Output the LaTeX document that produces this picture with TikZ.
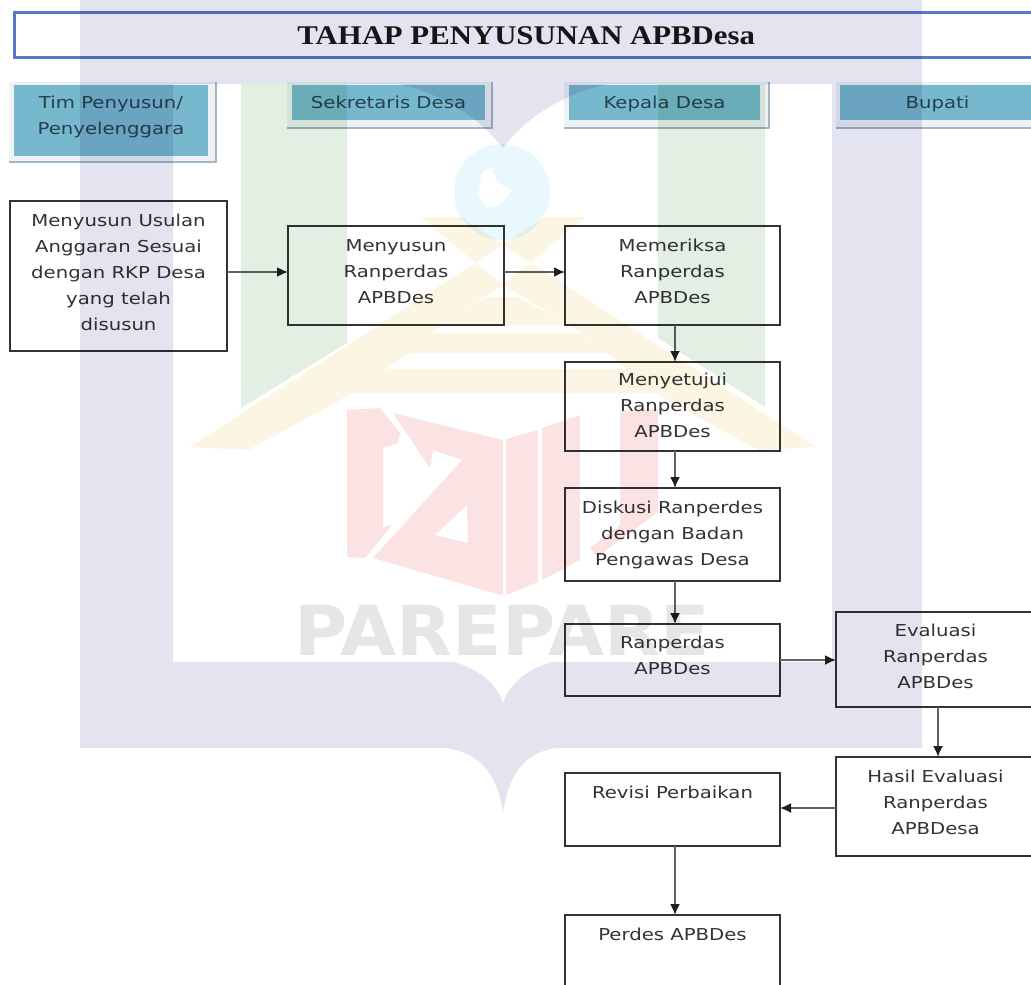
\documentclass[tikz,border=0pt]{standalone}
\usepackage{fontspec}
\setmainfont{DejaVu Sans}[FakeStretch=1.2]
\newfontfamily\titlefont{Liberation Serif}[FakeStretch=1.14]
\newfontfamily\markfont{DejaVu Sans}[FakeStretch=1.05]
\usetikzlibrary{arrows.meta,positioning}
\definecolor{lavmark}{HTML}{E3E4EF}
\definecolor{greenmark}{HTML}{E3EFE3}
\definecolor{yellowmark}{HTML}{FBF6E3}
\definecolor{redmark}{HTML}{FBE3E4}
\definecolor{bluemark}{HTML}{E9F8FD}
\definecolor{graymark}{HTML}{E6E6E6}
\definecolor{headteal}{HTML}{78B8CE}
\definecolor{bevelfill}{HTML}{EFF2F4}
\definecolor{beveledge}{HTML}{A5B5C2}
\definecolor{titleblue}{HTML}{5B78C8}
\definecolor{inktext}{HTML}{333333}
\definecolor{headtext}{HTML}{24424F}
\newcommand{\bxt}[4]{\parbox[c][#1pt][t]{#2pt}{\centering\fontsize{16.4}{26}\selectfont\rule{0pt}{#3pt}#4\par}}
\newcommand{\bevelrect}[4]{%
  \fill[bevelfill] (#1,#2) rectangle (#3,#4);
  \draw[beveledge,line width=1.6pt] (#1,#4) -- (#3,#4) -- (#3,#2);}
\tikzset{
  flowbox/.style={draw=black!80,line width=1.4pt,inner sep=0pt,outer sep=0pt,anchor=north west,text=inktext},
  headbox/.style={fill=headteal,inner sep=0pt,outer sep=0pt,anchor=north west,text=headtext},
  flow/.style={draw=black!62,line width=1.8pt,-{Latex[length=11pt,width=10pt,color=black!88]}},
  wmlayer/.style={blend mode=multiply}
}
\begin{document}
\begin{tikzpicture}[x=1pt,y=-1pt]
\path[use as bounding box,fill=white] (0,0) rectangle (1031,985);
\clip (0,0) rectangle (1031,985);
% title
\node[draw=titleblue,line width=3.4pt,minimum width=1024pt,minimum height=45pt,inner sep=0pt,anchor=north west,text=black!90] (title) at (12.5,11) {\titlefont\fontsize{27}{30}\selectfont\bfseries TAHAP PENYUSUNAN APBDesa};
% column headers
\bevelrect{9}{82}{216}{162}
\bevelrect{287}{82}{492}{128}
\bevelrect{564}{82}{769}{128}
\bevelrect{836}{82}{1040}{128}
\node[headbox] (h1) at (14,85) {\bxt{71}{194}{23}{Tim Penyusun/\\Penyelenggara}};
\node[headbox] (h2) at (292,85) {\bxt{35}{193}{23}{Sekretaris Desa}};
\node[headbox] (h3) at (569,85) {\bxt{35}{191}{23}{Kepala Desa}};
\node[headbox] (h4) at (840,85) {\bxt{35}{195}{23}{Bupati}};
% flow boxes
\node[flowbox] (a) at (10,201) {\bxt{150}{217}{25}{Menyusun Usulan\\Anggaran Sesuai\\dengan RKP Desa\\yang telah\\disusun}};
\node[flowbox] (b) at (288,226) {\bxt{99}{216}{25}{Menyusun\\Ranperdas\\APBDes}};
\node[flowbox] (c) at (565,226) {\bxt{99}{215}{25}{Memeriksa\\Ranperdas\\APBDes}};
\node[flowbox] (d) at (565,362) {\bxt{89}{215}{23}{Menyetujui\\Ranperdas\\APBDes}};
\node[flowbox] (e) at (565,488) {\bxt{93}{215}{25}{Diskusi Ranperdes\\dengan Badan\\Pengawas Desa}};
\node[flowbox] (f) at (565,624) {\bxt{72}{215}{24}{Ranperdas\\APBDes}};
\node[flowbox] (g) at (836,612) {\bxt{95}{199}{24}{Evaluasi\\Ranperdas\\APBDes}};
\node[flowbox] (h) at (836,757) {\bxt{99}{199}{25}{Hasil Evaluasi\\Ranperdas\\APBDesa}};
\node[flowbox] (i) at (565,773) {\bxt{73}{215}{25}{Revisi Perbaikan}};
\node[flowbox] (j) at (565,915) {\bxt{75}{215}{25}{Perdes APBDes}};
% connectors
\draw[flow] ([yshift=4pt]a.east) -- ([yshift=3.5pt]b.west);
\draw[flow] ([yshift=3.5pt]b.east) -- ([yshift=3.5pt]c.west);
\draw[flow] ([xshift=2.5pt]c.south) -- ([xshift=2.5pt]d.north);
\draw[flow] ([xshift=2.5pt]d.south) -- ([xshift=2.5pt]e.north);
\draw[flow] ([xshift=2.5pt]e.south) -- ([xshift=2.5pt]f.north);
\draw[flow] (f.east) -- ([yshift=-0.5pt]g.west);
\draw[flow] ([xshift=2.5pt]g.south) -- ([xshift=2.5pt]h.north);
\draw[flow] ([yshift=-1.5pt]h.west) -- ([yshift=1.5pt]i.east);
\draw[flow] ([xshift=2.5pt]i.south) -- ([xshift=2.5pt]j.north);
% watermark, laid over everything
\begin{scope}[wmlayer]
\fill[lavmark,even odd rule]
  (80,0) -- (922,0) -- (922,748) -- (556,748) .. controls (525,752) and (508,775) .. (503,813)
  .. controls (498,775) and (480,752) .. (445,748) -- (80,748) -- cycle
  (173,84) -- (397,84) .. controls (440,92) and (480,118) .. (503,148)
  .. controls (525,118) and (565,92) .. (610,84) -- (832,84) -- (832,662) -- (552,662)
  .. controls (530,668) and (510,682) .. (503,703) .. controls (496,682) and (476,668) .. (454,662)
  -- (173,662) -- cycle;
\fill[greenmark] (241,84) -- (347,84) -- (347,343) -- (241,408) -- cycle;
\fill[greenmark] (658,84) -- (765,84) -- (765,407) -- (658,338) -- cycle;
\fill[bluemark,even odd rule] (502,192) circle[radius=48]
  (482,172) -- (492,168) -- (497,182) -- (512,190) -- (500,205) -- (486,208) -- (478,195) -- cycle;
\fill[yellowmark]
  (190,447) -- (472,265) -- (545,217) -- (585,217) -- (528,265) -- (500,287) -- (443,325) -- (408,353) -- (387,369) -- (353,393) -- (248,450) -- cycle
  (816,447) -- (534,265) -- (461,217) -- (421,217) -- (478,265) -- (506,287) -- (570,325) -- (607,353) -- (627,369) -- (655,393) -- (758,450) -- cycle
  (443,325) -- (487,297) -- (518,297) -- (570,325) -- cycle
  (408,353) -- (431,333) -- (582,333) -- (607,353) -- cycle
  (353,393) -- (387,369) -- (627,369) -- (655,393) -- cycle;
\fill[redmark] (347,410) -- (380,408) -- (400,433) -- (398,443) -- (383,448) -- (383,527) -- (392,525) -- (365,558) -- (347,557) -- cycle;
\fill[redmark,even odd rule] (393,413) -- (503,440) -- (503,595) -- (497,594) -- (373,558) -- (462,460) -- (433,450) -- (430,468) -- cycle
  (467,505) -- (468,543) -- (435,535) -- cycle;
\fill[redmark] (506,439) -- (538,430) -- (538,582) -- (506,595) -- cycle;
\fill[redmark] (542,428) -- (580,415) -- (580,560) -- (542,580) -- cycle;
\fill[redmark] (620,411) -- (658,409) -- (658,512) -- (597,557) -- (590,548) -- (620,525) -- cycle;
\node[anchor=base,inner sep=0pt,text=graymark] (wm) at (502,655) {\markfont\fontsize{69}{70}\selectfont\bfseries PAREPARE};
\end{scope}
\end{tikzpicture}
\end{document}
